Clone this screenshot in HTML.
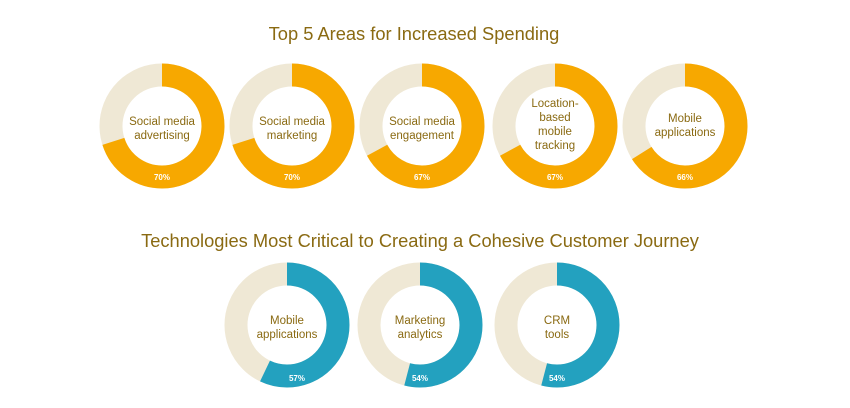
<!DOCTYPE html>
<html><head><meta charset="utf-8"><style>
html,body{margin:0;padding:0;background:#fff;}
svg{display:block;font-family:"Liberation Sans",sans-serif;}
</style></head><body>
<svg width="850" height="408" viewBox="0 0 850 408" xmlns="http://www.w3.org/2000/svg">
<text x="414" y="40" text-anchor="middle" font-size="18.3" fill="#8a6a12">Top 5 Areas for Increased Spending</text>
<text x="420" y="247" text-anchor="middle" font-size="18.3" fill="#8a6a12">Technologies Most Critical to Creating a Cohesive Customer Journey</text>
<g fill="none" stroke-width="23">
<g transform="translate(162,126)"><circle r="51" stroke="#efe8d5"/><circle r="51" stroke="#f7a800" stroke-dasharray="224.3 400" transform="rotate(-90)"/></g>
<g transform="translate(292,126)"><circle r="51" stroke="#efe8d5"/><circle r="51" stroke="#f7a800" stroke-dasharray="224.3 400" transform="rotate(-90)"/></g>
<g transform="translate(422,126)"><circle r="51" stroke="#efe8d5"/><circle r="51" stroke="#f7a800" stroke-dasharray="214.7 400" transform="rotate(-90)"/></g>
<g transform="translate(555,126)"><circle r="51" stroke="#efe8d5"/><circle r="51" stroke="#f7a800" stroke-dasharray="214.7 400" transform="rotate(-90)"/></g>
<g transform="translate(685,126)"><circle r="51" stroke="#efe8d5"/><circle r="51" stroke="#f7a800" stroke-dasharray="211.5 400" transform="rotate(-90)"/></g>
<g transform="translate(287,325)"><circle r="51" stroke="#efe8d5"/><circle r="51" stroke="#23a1bf" stroke-dasharray="182.7 400" transform="rotate(-90)"/></g>
<g transform="translate(420,325)"><circle r="51" stroke="#efe8d5"/><circle r="51" stroke="#23a1bf" stroke-dasharray="173 400" transform="rotate(-90)"/></g>
<g transform="translate(557,325)"><circle r="51" stroke="#efe8d5"/><circle r="51" stroke="#23a1bf" stroke-dasharray="173 400" transform="rotate(-90)"/></g>
</g>
<g font-size="11.5" fill="#8a6a12" text-anchor="middle">
<text x="162" y="125">Social media</text><text x="162" y="139">advertising</text>
<text x="292" y="125">Social media</text><text x="292" y="139">marketing</text>
<text x="422" y="125">Social media</text><text x="422" y="139">engagement</text>
<text x="555" y="107">Location-</text><text x="555" y="121">based</text><text x="555" y="135">mobile</text><text x="555" y="149">tracking</text>
<text x="685" y="122">Mobile</text><text x="685" y="136">applications</text>
<text x="287" y="324">Mobile</text><text x="287" y="338">applications</text>
<text x="420" y="324">Marketing</text><text x="420" y="338">analytics</text>
<text x="557" y="324">CRM</text><text x="557" y="338">tools</text>
</g>
<g font-size="8" font-weight="bold" fill="#fff" text-anchor="middle">
<text x="162" y="180">70%</text><text x="292" y="180">70%</text><text x="422" y="180">67%</text><text x="555" y="180">67%</text><text x="685" y="180">66%</text>
<text x="297" y="381">57%</text><text x="420" y="381">54%</text><text x="557" y="381">54%</text>
</g>
</svg>
</body></html>
